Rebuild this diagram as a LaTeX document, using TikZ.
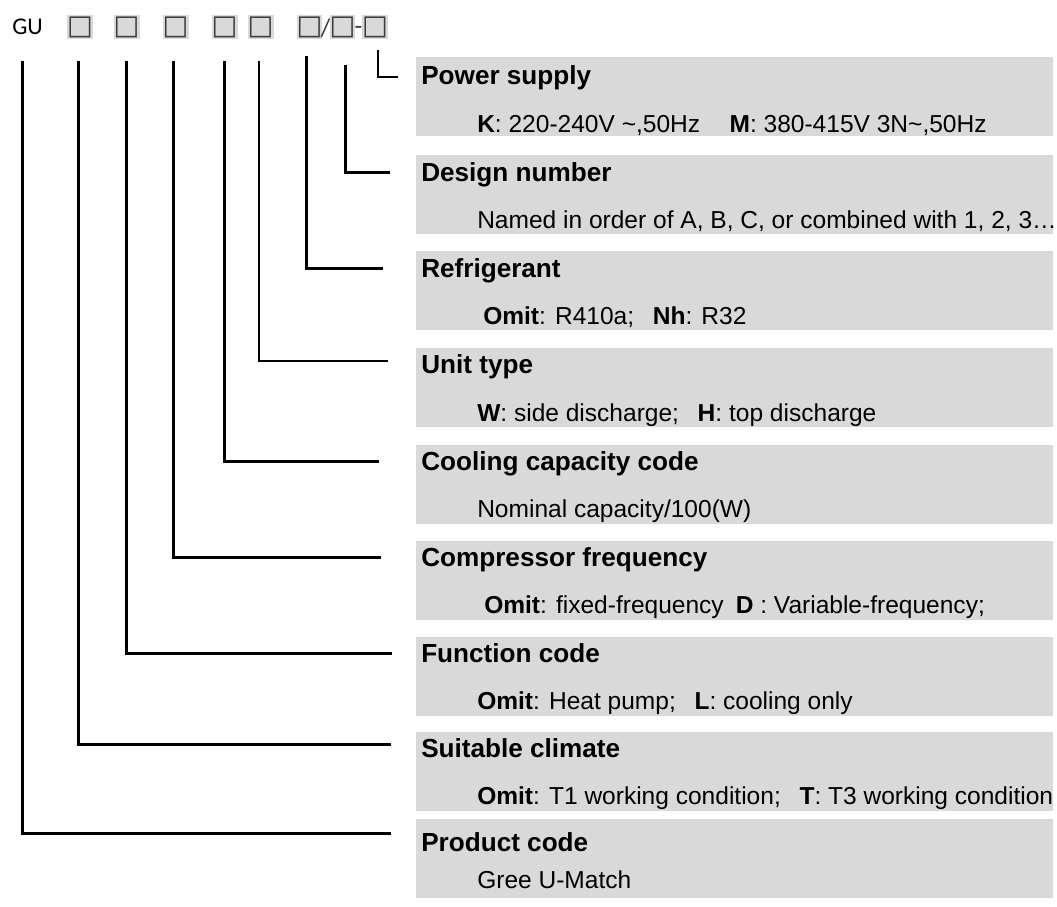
\documentclass[tikz,border=0pt]{standalone}
\usepackage{fontspec}
\setmainfont{Liberation Sans}
\newfontfamily\gufont{Carlito}
\newfontfamily\symfont{DejaVu Sans}
\definecolor{panelgray}{HTML}{D9D9D9}
\definecolor{sqgray}{HTML}{3A3A3A}
\tikzset{
  panel/.style={fill=panelgray, draw=none, anchor=north west, inner sep=0pt,
                minimum width=477.75pt, minimum height=59pt},
  ttl/.style={anchor=base west, inner sep=0pt, font=\fontsize{19.6}{21}\selectfont\bfseries},
  bdy/.style={anchor=base west, inner sep=0pt, font=\fontsize{18.4}{20}\selectfont},
  codebox/.style={fill=panelgray, inner sep=0pt, minimum width=19.5pt, minimum height=18pt,
                  text=sqgray, font=\symfont\fontsize{20.5}{20.5}\selectfont},
  codetxt/.style={inner sep=0pt, font=\gufont\fontsize{18}{20}\selectfont},
  sepglyph/.style={inner sep=0pt, text=sqgray, font=\gufont\fontsize{19}{21}\selectfont},
  lead/.style={line width=2.25pt},
  thinlead/.style={line width=1.1pt}
}
\begin{document}
\begin{tikzpicture}[x=0.75pt,y=-0.75pt]
\useasboundingbox (0,0) rectangle (1057,907);
% top code row
\node[codetxt, anchor=base west] (gu) at (12,34) {GU};
\node[codebox] (b1) at (80,27) {□};
\node[codebox] (b2) at (126.5,27) {□};
\node[codebox] (b3) at (175.5,27) {□};
\node[codebox] (b4) at (224.5,27) {□};
\node[codebox] (b5) at (260.5,27) {□};
\node[codebox, minimum width=15pt] (b6) at (309.5,27) {□};
\node[sepglyph, anchor=base] (sl) at (325.5,36) {/};
\node[codebox, minimum width=17pt] (b7) at (342.5,27) {□};
\node[sepglyph, anchor=base] (da) at (358.5,34) {-};
\node[codebox, minimum width=17pt] (b8) at (375,27) {□};

% panels
\node[panel] (p1) at (416,57) {};
\node[panel] (p2) at (416,155) {};
\node[panel] (p3) at (416,251) {};
\node[panel] (p4) at (416,348) {};
\node[panel] (p5) at (416,445) {};
\node[panel] (p6) at (416,541) {};
\node[panel] (p7) at (416,637) {};
\node[panel] (p8) at (416,732) {};
\node[panel] (p9) at (416,819) {};

% titles
\node[ttl] (t1) at (421,84) {Power supply};
\node[ttl] (t2) at (421,181) {Design number};
\node[ttl] (t3) at (421,277) {Refrigerant};
\node[ttl] (t4) at (421,373) {Unit type};
\node[ttl] (t5) at (421,470) {Cooling capacity code};
\node[ttl] (t6) at (421,566) {Compressor frequency};
\node[ttl] (t7) at (421,662) {Function code};
\node[ttl] (t8) at (421,757) {Suitable climate};
\node[ttl] (t9) at (421,851) {Product code};

% descriptions
\node[bdy] (d1) at (477,132) {\textbf{K}: 220-240V \textasciitilde,50Hz\hspace{22pt}\textbf{M}: 380-415V 3N\textasciitilde,50Hz};
\node[bdy] (d2) at (477,228) {Named in order of A, B, C, or combined with 1, 2, 3…};
\node[bdy] (d3) at (483,324) {\textbf{Omit}: R410a;\hspace{14pt}\textbf{Nh}: R32};
\node[bdy] (d4) at (477,421) {\textbf{W}: side discharge;\hspace{14pt}\textbf{H}: top discharge};
\node[bdy] (d5) at (477,517) {Nominal capacity/100(W)};
\node[bdy] (d6) at (484,613) {\textbf{Omit}: fixed-frequency\hspace{9pt}\textbf{D} : Variable-frequency;};
\node[bdy] (d7) at (477,709) {\textbf{Omit}: Heat pump;\hspace{14pt}\textbf{L}: cooling only};
\node[bdy] (d8) at (477,804) {\textbf{Omit}: T1 working condition;\hspace{14pt}\textbf{T}: T3 working condition};
\node[bdy] (d9) at (477,888) {Gree U-Match};

% leader coordinates
\coordinate (s1) at (378,50);  \coordinate (e1) at (398,77);
\coordinate (s2) at (345,65);  \coordinate (e2) at (390,172);
\coordinate (s3) at (306,56);  \coordinate (e3) at (383,268);
\coordinate (s4) at (259,61);  \coordinate (e4) at (388,361);
\coordinate (s5) at (224,61);  \coordinate (e5) at (379,461);
\coordinate (s6) at (173,61);  \coordinate (e6) at (381,557);
\coordinate (s7) at (126,61);  \coordinate (e7) at (392,653);
\coordinate (s8) at (78,61);   \coordinate (e8) at (391,744);
\coordinate (s9) at (22,61);   \coordinate (e9) at (391,833);

\draw[thinlead] (s1) |- (e1);
\draw[lead] (s2) |- (e2);
\draw[lead] (s3) |- (e3);
\draw[lead, line width=1.6pt] (s4) |- (e4);
\draw[lead] (s5) |- (e5);
\draw[lead] (s6) |- (e6);
\draw[lead] (s7) |- (e7);
\draw[lead] (s8) |- (e8);
\draw[lead] (s9) |- (e9);
\end{tikzpicture}
\end{document}
